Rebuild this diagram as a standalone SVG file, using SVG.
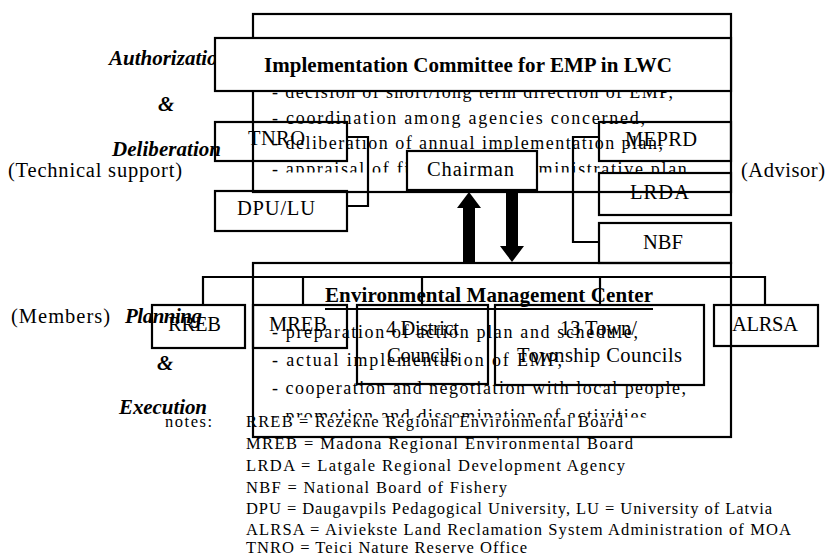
<svg xmlns="http://www.w3.org/2000/svg" width="826" height="556" viewBox="0 0 826 556" font-family="'Liberation Serif', 'Times New Roman', serif">
<defs>
<style>
.bx{fill:none;stroke:#000;stroke-width:2.2}
.wb{fill:#fff;stroke:#000;stroke-width:2.2}
.ln{fill:none;stroke:#000;stroke-width:2.2}
text{font-family:'Liberation Serif','Times New Roman',serif;fill:#000}
.lb{font-size:20.5px}
.bl{font-size:18px}
.nt{font-size:16.5px}
.bi{font-size:21px;font-weight:bold;font-style:italic}
.tt{font-size:21px;font-weight:bold}
</style>
<clipPath id="c1"><rect x="253" y="60" width="478" height="112.5"/></clipPath>
<clipPath id="c2"><rect x="253" y="310" width="478" height="107.5"/></clipPath>
</defs>
<rect width="826" height="556" fill="#fff"/>

<g id="side-labels">
<text class="bi" x="109" y="65">Authorization</text>
<text class="bi" x="158" y="111">&amp;</text>
<text class="bi" x="112" y="156" textLength="109" lengthAdjust="spacing">Deliberation</text>
<text class="lb" x="8" y="177" textLength="174" lengthAdjust="spacing">(Technical support)</text>
<text class="lb" x="741" y="177" textLength="84" lengthAdjust="spacing">(Advisor)</text>
<text class="lb" x="11" y="323" textLength="99" lengthAdjust="spacing">(Members)</text>
<text class="bi" x="125" y="323" textLength="77" lengthAdjust="spacing">Planning</text>
<text class="bi" x="157" y="370">&amp;</text>
<text class="bi" x="119" y="414" textLength="88" lengthAdjust="spacing">Execution</text>
</g>

<g id="committee">
<rect class="bx" x="253" y="14" width="478" height="178"/>
<g clip-path="url(#c1)">
<text class="bl" x="272" y="98" textLength="401" lengthAdjust="spacing">- decision of short/long term direction of EMP,</text>
<text class="bl" x="272" y="124" textLength="373" lengthAdjust="spacing">- coordination among agencies concerned,</text>
<text class="bl" x="272" y="149" textLength="391" lengthAdjust="spacing">- deliberation of annual implementation plan,</text>
<text class="bl" x="272" y="175" textLength="421" lengthAdjust="spacing">- appraisal of financial and administrative plan,</text>
</g>
<rect class="wb" x="215" y="38" width="516" height="53"/>
<text class="tt" x="264" y="72" textLength="408" lengthAdjust="spacing">Implementation Committee for EMP in LWC</text>
</g>

<g id="tnro">
<rect class="bx" x="215" y="122" width="132" height="39"/>
<text class="lb" x="248" y="145" textLength="57" lengthAdjust="spacing">TNRO</text>
</g>
<g id="dpulu">
<rect class="bx" x="215" y="191" width="132" height="40"/>
<text class="lb" x="237" y="215" textLength="78" lengthAdjust="spacing">DPU/LU</text>
</g>
<g id="chairman">
<rect class="wb" x="407" y="151" width="130" height="39"/>
<text class="lb" x="427" y="176" textLength="87" lengthAdjust="spacing">Chairman</text>
</g>
<g id="meprd">
<rect class="bx" x="599" y="122" width="132" height="39"/>
<text class="lb" x="625" y="146" textLength="72" lengthAdjust="spacing">MEPRD</text>
</g>
<g id="lrda">
<rect class="bx" x="599" y="173" width="132" height="42"/>
<text class="lb" x="630" y="199" textLength="59" lengthAdjust="spacing">LRDA</text>
</g>
<g id="nbf">
<rect class="bx" x="599" y="223" width="132" height="40"/>
<text class="lb" x="643" y="249" textLength="40" lengthAdjust="spacing">NBF</text>
</g>

<g id="emc">
<rect class="bx" x="253" y="263" width="478" height="174"/>
<text class="tt" x="325" y="302" textLength="328" lengthAdjust="spacing">Environmental Management Center</text>
<line x1="325" y1="309" x2="653" y2="309" stroke="#000" stroke-width="2.2"/>
<g clip-path="url(#c2)">
<text class="bl" x="272" y="338" textLength="366" lengthAdjust="spacing">- preparation of action plan and schedule,</text>
<text class="bl" x="272" y="366" textLength="290" lengthAdjust="spacing">- actual implementation of EMP,</text>
<text class="bl" x="272" y="394" textLength="414" lengthAdjust="spacing">- cooperation and negotiation with local people,</text>
<text class="bl" x="272" y="422" textLength="375" lengthAdjust="spacing">- promotion and dissemination of activities</text>
</g>
</g>

<g id="rreb">
<rect class="bx" x="152" y="305" width="93" height="43"/>
<text class="lb" x="168" y="331" textLength="53" lengthAdjust="spacing">RREB</text>
</g>
<g id="mreb">
<rect class="bx" x="253" y="305" width="94" height="43"/>
<text class="lb" x="269" y="331" textLength="58" lengthAdjust="spacing">MREB</text>
</g>
<g id="district">
<rect class="bx" x="357" y="305" width="131" height="79"/>
<text class="lb" x="386" y="335" textLength="73" lengthAdjust="spacing">4 District</text>
<text class="lb" x="387" y="362" textLength="71" lengthAdjust="spacing">Councils</text>
</g>
<g id="township">
<rect class="bx" x="495" y="305" width="209" height="80"/>
<text class="lb" x="560" y="335" textLength="77" lengthAdjust="spacing">13 Town/</text>
<text class="lb" x="517" y="362" textLength="165" lengthAdjust="spacing">Township Councils</text>
</g>
<g id="alrsa">
<rect class="bx" x="714" y="305" width="104" height="41"/>
<text class="lb" x="732" y="331" textLength="66" lengthAdjust="spacing">ALRSA</text>
</g>

<g id="connectors">
<polyline class="ln" points="347,137 368,137 368,206 347,206"/>
<polyline class="ln" points="599,137 573,137 573,242 599,242"/>
<polyline class="ln" points="203,305 203,277 765,277 765,305"/>
<line class="ln" x1="303" y1="277" x2="303" y2="305"/>
<line class="ln" x1="422" y1="277" x2="422" y2="305"/>
<line class="ln" x1="600" y1="277" x2="600" y2="305"/>
<polygon points="463,263 463,208 457,208 469,192 481,208 475,208 475,263" fill="#000"/>
<polygon points="506,190 518,190 518,246 524,246 512,262 500,246 506,246" fill="#000"/>
</g>

<g id="notes">
<text class="nt" x="165" y="427" textLength="47" lengthAdjust="spacing">notes:</text>
<text class="nt" x="246" y="427" textLength="377" lengthAdjust="spacing">RREB = Rezekne Regional Environmental Board</text>
<text class="nt" x="246" y="449" textLength="387" lengthAdjust="spacing">MREB = Madona Regional Environmental Board</text>
<text class="nt" x="246" y="471" textLength="379" lengthAdjust="spacing">LRDA = Latgale Regional Development Agency</text>
<text class="nt" x="246" y="493" textLength="261" lengthAdjust="spacing">NBF = National Board of Fishery</text>
<text class="nt" x="246" y="514" textLength="526" lengthAdjust="spacing">DPU = Daugavpils Pedagogical University,  LU = University of Latvia</text>
<text class="nt" x="246" y="535" textLength="545" lengthAdjust="spacing">ALRSA = Aiviekste Land Reclamation System Administration of MOA</text>
<text class="nt" x="246" y="553" textLength="281" lengthAdjust="spacing">TNRO = Teici Nature Reserve Office</text>
</g>
</svg>
